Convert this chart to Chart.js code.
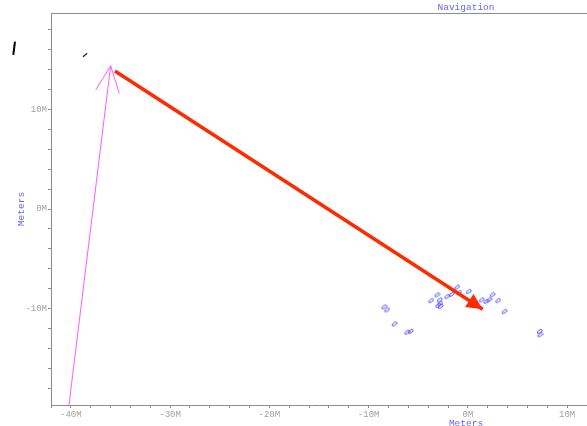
<!DOCTYPE html>
<html>
<head>
<meta charset="utf-8">
<script src="https://cdn.jsdelivr.net/npm/chart.js@4"></script>
<style>
  html, body { margin: 0; padding: 0; background: #fff; overflow: hidden; }
  canvas { display: block; }
</style>
</head>
<body>
<canvas id="nav" width="587" height="426"></canvas>
<script>
// Navigation plot, positions in millions of meters.

// Contact reports (blue glyphs)
const contactX = [-8.26, -7.96, -7.22, -5.94, -5.59, -3.53, -2.92, -2.67, -2.62, -2.82, -2.57,
                  -1.91, -1.46, -0.91, -0.71, 0.27, 1.58, 2.02, 2.32, 2.65, 3.22, 3.86, 7.41, 7.46];
const contactY = [-9.85, -10.15, -11.56, -12.39, -12.31, -9.22, -8.64, -9.15, -9.50, -9.70, -9.80,
                  -8.81, -8.59, -7.87, -8.41, -8.31, -9.15, -9.30, -9.15, -8.64, -9.22, -10.32, -12.31, -12.66];

// Inbound track (magenta) and its arrow barbs
const trackX = [-40.0, -35.80];
const trackY = [-19.7, 14.40];
const barbX = [-37.31, -35.80, -34.94];
const barbY = [11.96, 14.40, 11.63];

// Planned course (red arrow): start, tip
const courseX = [-35.37, 1.68];
const courseY = [13.87, -10.07];

// Small black marker and wedge
const markX = [-38.59, -38.16];
const markY = [15.31, 15.65];
const wedgeX = [-45.61, -45.44];
const wedgeY = [15.48, 16.83];

// Axis extents and ticks
const xRange = [-41.81, 12.19];
const yRange = [-19.70, 19.70];
const tickStep = 2;
const labelStep = 10;

const pts = (xs, ys) => xs.map((x, i) => ({ x: x, y: ys[i] }));

const AXIS_GREY = '#8c8c8c';
const LABEL_GREY = '#a0a0a0';
const TITLE_BLUE = '#6666ff';
const MONO = '"Liberation Mono", "DejaVu Sans Mono", monospace';

// glyph used for contact reports
function contactGlyph() {
  const c = document.createElement('canvas');
  c.width = 7; c.height = 7;
  const g = c.getContext('2d');
  g.translate(3.5, 3.5);
  g.rotate(-35 * Math.PI / 180);
  g.strokeStyle = '#5a5aff';
  g.lineWidth = 0.9;
  g.beginPath();
  g.moveTo(-2.8, 0);
  g.lineTo(-1.4, -1.2);
  g.lineTo(2.6, -1.2);
  g.lineTo(2.6, 1.2);
  g.lineTo(-1.4, 1.2);
  g.closePath();
  g.stroke();
  return c;
}

function axisOptions(range, pos, fitKey, fitVal) {
  return {
    type: 'linear',
    position: pos,
    min: range[0],
    max: range[1],
    afterFit: (s) => {
      s[fitKey] = fitVal;
      s.paddingLeft = 0; s.paddingRight = 0; s.paddingTop = 0; s.paddingBottom = 0;
    },
    border: { display: true, color: AXIS_GREY, width: 1 },
    grid: { display: true, drawOnChartArea: false, drawTicks: true, tickLength: 3, color: AXIS_GREY },
    ticks: {
      stepSize: tickStep,
      includeBounds: false,
      autoSkip: false,
      maxRotation: 0,
      padding: 1,
      color: LABEL_GREY,
      font: { family: MONO, size: 9 },
      callback: (v) => {
        const r = Math.round(v);
        return r % labelStep === 0 ? (r === 0 ? 0 : r) + 'M' : '';
      }
    }
  };
}

const decor = {
  id: 'decor',
  afterDatasetsDraw(chart) {
    const ctx = chart.ctx;
    const xs = chart.scales.x, ys = chart.scales.y;
    // arrowhead at the end of the course line
    const x0 = xs.getPixelForValue(courseX[0]), y0 = ys.getPixelForValue(courseY[0]);
    const x1 = xs.getPixelForValue(courseX[1]), y1 = ys.getPixelForValue(courseY[1]);
    const len = Math.hypot(x1 - x0, y1 - y0);
    const ux = (x1 - x0) / len, uy = (y1 - y0) / len;
    const headLen = 16, headHalf = 7.8;
    const bx = x1 - ux * headLen, by = y1 - uy * headLen;
    ctx.save();
    ctx.fillStyle = '#ff2a00';
    ctx.beginPath();
    ctx.moveTo(x1, y1);
    ctx.lineTo(bx - uy * headHalf, by + ux * headHalf);
    ctx.lineTo(bx + uy * headHalf, by - ux * headHalf);
    ctx.closePath();
    ctx.fill();
    ctx.restore();
  },
  afterDraw(chart) {
    const ctx = chart.ctx;
    const a = chart.chartArea;
    ctx.save();
    // frame line along the top of the plot
    ctx.strokeStyle = AXIS_GREY;
    ctx.lineWidth = 1;
    ctx.beginPath();
    ctx.moveTo(a.left, a.top + 0.5);
    ctx.lineTo(a.right, a.top + 0.5);
    ctx.stroke();

    const cx = chart.scales.x.getPixelForValue(0);
    const cy = chart.scales.y.getPixelForValue(0);
    ctx.fillStyle = TITLE_BLUE;
    ctx.font = '9.5px ' + MONO;
    ctx.textAlign = 'center';
    ctx.textBaseline = 'middle';
    ctx.fillText('Navigation', cx, 7);
    ctx.fillText('Meters', cx, 423);
    ctx.translate(21, cy);
    ctx.rotate(-Math.PI / 2);
    ctx.fillText('Meters', 0, 0);
    ctx.restore();
  }
};

new Chart(document.getElementById('nav'), {
  type: 'scatter',
  data: {
    datasets: [
      { data: pts(trackX, trackY), showLine: true, borderColor: '#ff5cff', borderWidth: 1, pointRadius: 0 },
      { data: pts(barbX, barbY), showLine: true, borderColor: '#ff5cff', borderWidth: 1, pointRadius: 0 },
      { data: pts(courseX, courseY), showLine: true, borderColor: '#ff2a00', borderWidth: 3.5, pointRadius: 0 },
      { data: pts(markX, markY), showLine: true, borderColor: '#222', borderWidth: 1.2, pointRadius: 0 },
      { data: pts(wedgeX, wedgeY), showLine: true, borderColor: '#000', borderWidth: 2, pointRadius: 0, clip: false },
      { data: pts(contactX, contactY), showLine: false, pointStyle: contactGlyph(), pointRadius: 3 }
    ]
  },
  options: {
    responsive: false,
    animation: false,
    devicePixelRatio: 1,
    layout: { autoPadding: false, padding: { top: 13, left: 0, right: 0, bottom: 0 } },
    plugins: { legend: { display: false }, tooltip: { enabled: false } },
    scales: {
      x: axisOptions(xRange, 'bottom', 'height', 21),
      y: axisOptions(yRange, 'left', 'width', 51)
    }
  },
  plugins: [decor]
});
</script>
</body>
</html>
